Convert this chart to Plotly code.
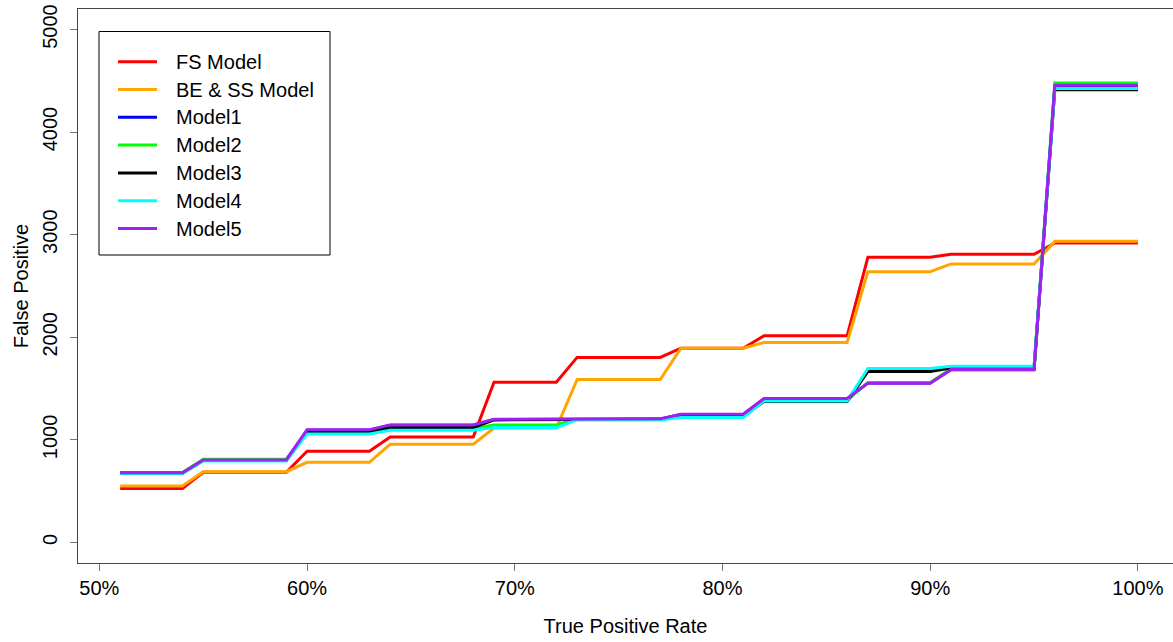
import plotly.graph_objects as go

# True positive rate (percent) at each threshold step
tpr = [51, 52, 53, 54, 55, 56, 57, 58, 59, 60,
       61, 62, 63, 64, 65, 66, 67, 68, 69, 70,
       71, 72, 73, 74, 75, 76, 77, 78, 79, 80,
       81, 82, 83, 84, 85, 86, 87, 88, 89, 90,
       91, 92, 93, 94, 95, 96, 97, 98, 99, 100]

# False positive counts per model
fs_model = [527, 527, 527, 527, 684, 684, 684, 684, 684, 890,
            890, 890, 890, 1028, 1028, 1028, 1028, 1028, 1562, 1562,
            1562, 1562, 1804, 1804, 1804, 1804, 1804, 1894, 1894, 1894,
            1894, 2015, 2015, 2015, 2015, 2015, 2780, 2780, 2780, 2780,
            2810, 2810, 2810, 2810, 2810, 2920, 2920, 2920, 2920, 2920]
be_ss_model = [550, 550, 550, 550, 690, 690, 690, 690, 690, 781,
               781, 781, 781, 957, 957, 957, 957, 957, 1115, 1115,
               1115, 1115, 1588, 1588, 1588, 1588, 1588, 1894, 1894, 1894,
               1894, 1950, 1950, 1950, 1950, 1950, 2640, 2640, 2640, 2640,
               2715, 2715, 2715, 2715, 2715, 2935, 2935, 2935, 2935, 2935]
model1 = [678, 678, 678, 678, 803, 803, 803, 803, 803, 1095,
          1095, 1095, 1095, 1143, 1143, 1143, 1143, 1143, 1198, 1198,
          1198, 1198, 1203, 1203, 1203, 1203, 1203, 1247, 1247, 1247,
          1247, 1400, 1400, 1400, 1400, 1400, 1555, 1555, 1555, 1555,
          1683, 1683, 1683, 1683, 1683, 4450, 4450, 4450, 4450, 4450]
model2 = [682, 682, 682, 682, 812, 812, 812, 812, 812, 1080,
          1080, 1080, 1080, 1112, 1112, 1112, 1112, 1112, 1146, 1146,
          1146, 1146, 1200, 1200, 1200, 1200, 1200, 1232, 1232, 1232,
          1232, 1385, 1385, 1385, 1385, 1385, 1560, 1560, 1560, 1560,
          1692, 1692, 1692, 1692, 1692, 4479, 4479, 4479, 4479, 4479]
model3 = [675, 675, 675, 675, 800, 800, 800, 800, 800, 1077,
          1077, 1077, 1077, 1120, 1120, 1120, 1120, 1120, 1195, 1195,
          1195, 1195, 1200, 1200, 1200, 1200, 1200, 1235, 1235, 1235,
          1235, 1375, 1375, 1375, 1375, 1375, 1667, 1667, 1667, 1667,
          1700, 1700, 1700, 1700, 1700, 4413, 4413, 4413, 4413, 4413]
model4 = [672, 672, 672, 672, 795, 795, 795, 795, 795, 1058,
          1058, 1058, 1058, 1094, 1094, 1094, 1094, 1094, 1120, 1120,
          1120, 1120, 1195, 1195, 1195, 1195, 1195, 1218, 1218, 1218,
          1218, 1380, 1380, 1380, 1380, 1380, 1696, 1696, 1696, 1696,
          1718, 1718, 1718, 1718, 1718, 4424, 4424, 4424, 4424, 4424]
model5 = [680, 680, 680, 680, 805, 805, 805, 805, 805, 1100,
          1100, 1100, 1100, 1146, 1146, 1146, 1146, 1146, 1200, 1200,
          1200, 1200, 1205, 1205, 1205, 1205, 1205, 1250, 1250, 1250,
          1250, 1403, 1403, 1403, 1403, 1403, 1553, 1553, 1553, 1553,
          1685, 1685, 1685, 1685, 1685, 4457, 4457, 4457, 4457, 4457]

series_names = ["FS Model", "BE & SS Model", "Model1", "Model2",
                "Model3", "Model4", "Model5"]
series_values = [fs_model, be_ss_model, model1, model2, model3, model4, model5]
series_colors = ["#FF0000", "#FFA500", "#0000FF", "#00FF00",
                 "#000000", "#00FFFF", "#A020F0"]

x_ticks = [50, 60, 70, 80, 90, 100]
x_tick_labels = ["50%", "60%", "70%", "80%", "90%", "100%"]
y_ticks = [0, 1000, 2000, 3000, 4000, 5000]
y_tick_labels = ["0", "1000", "2000", "3000", "4000", "5000"]

W, H = 1173, 642
ML, MR, MT, MB = 78, 0, 9, 79
PW, PH = W - ML - MR, H - MT - MB
FONT = "Arial, Liberation Sans, sans-serif"


def px_x(px):
    return (px - ML) / PW


def px_y(py):
    return 1 - (py - MT) / PH


fig = go.Figure()
for name, vals, col in zip(series_names, series_values, series_colors):
    fig.add_trace(go.Scatter(x=tpr, y=vals, mode="lines", name=name,
                             line=dict(color=col, width=3),
                             showlegend=False))

# Boxed legend in the upper-left corner
shapes = [dict(type="rect", xref="paper", yref="paper",
               x0=px_x(99), x1=px_x(330), y0=px_y(255), y1=px_y(31.5),
               line=dict(color="#000000", width=1), fillcolor="white")]
annotations = []
for i, (name, col) in enumerate(zip(series_names, series_colors)):
    yy = 61.7 + i * 27.8
    shapes.append(dict(type="line", xref="paper", yref="paper",
                       x0=px_x(118), x1=px_x(157), y0=px_y(yy), y1=px_y(yy),
                       line=dict(color=col, width=3)))
    annotations.append(dict(text=name, xref="paper", yref="paper",
                            x=px_x(174), y=px_y(yy), xanchor="left",
                            yanchor="middle", showarrow=False,
                            font=dict(family=FONT, size=20, color="#000000")))

fig.update_layout(
    width=W, height=H,
    margin=dict(l=ML, r=MR, t=MT, b=MB),
    paper_bgcolor="white", plot_bgcolor="white",
    font=dict(family=FONT, size=20, color="#000000"),
    shapes=shapes, annotations=annotations,
    xaxis=dict(range=[48.97, 101.69], tickmode="array",
               tickvals=x_ticks, ticktext=x_tick_labels,
               showgrid=False, zeroline=False,
               showline=True, mirror=True, linecolor="#444444", linewidth=1,
               ticks="outside", ticklen=7, tickcolor="#777777",
               tickfont=dict(size=20),
               title=dict(text="True Positive Rate", standoff=20,
                          font=dict(size=20))),
    yaxis=dict(range=[-200, 5200], tickmode="array",
               tickvals=y_ticks, ticktext=y_tick_labels,
               showgrid=False, zeroline=False,
               showline=True, mirror=False, linecolor="#444444", linewidth=1,
               ticks="outside", ticklen=7, tickcolor="#777777",
               tickangle=-90, tickfont=dict(size=20), ticklabelstandoff=5,
               title=dict(text="False Positive", standoff=5,
                          font=dict(size=20))),
)

fig.write_html("out.html")
